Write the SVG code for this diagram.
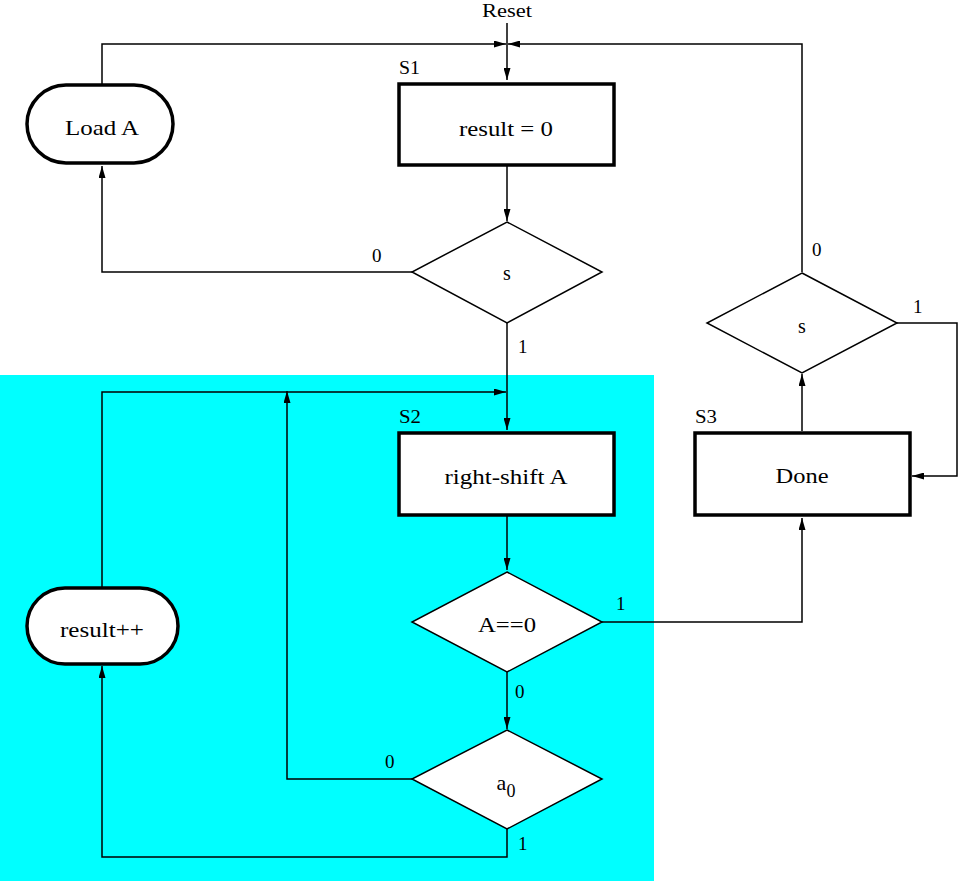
<svg xmlns="http://www.w3.org/2000/svg" width="958" height="881" viewBox="0 0 958 881">
<defs>
<marker id="ah" markerWidth="12" markerHeight="7" refX="12" refY="3.5" orient="auto" markerUnits="userSpaceOnUse">
<path d="M0,0 L12,3.5 L0,7 z" fill="#000"/>
</marker>
<style>
.box{fill:#fff;stroke:#000;stroke-width:3.5}
.dia{fill:#fff;stroke:#000;stroke-width:1.5}
.c{fill:none;stroke:#000;stroke-width:1.5}
.a{marker-end:url(#ah)}
.t{font-family:"Liberation Serif","Times New Roman",serif;font-size:22px;text-anchor:middle;fill:#000}
.s{font-family:"Liberation Serif","Times New Roman",serif;font-size:19px;fill:#000}
</style>
</defs>
<rect x="0" y="375" width="654" height="506" fill="#00ffff"/>
<g id="connectors">
<path class="c a" d="M507,23 V80"/>
<path class="c a" d="M102,84 V44 H506"/>
<path class="c a" d="M802,272 V44 H508"/>
<path class="c a" d="M507,166 V221"/>
<path class="c a" d="M412,272 H102 V166"/>
<path class="c a" d="M507,323 V430"/>
<path class="c a" d="M102,587 V392 H506"/>
<path class="c a" d="M507,516 V570"/>
<path class="c a" d="M602,622 H802 V518"/>
<path class="c a" d="M507,672 V729"/>
<path class="c a" d="M412,779 H287 V391"/>
<path class="c a" d="M507,829 V857 H102 V666"/>
<path class="c a" d="M802,431 V374"/>
<path class="c a" d="M897,323 H957 V476 H912"/>
</g>
<text class="s" x="507" y="17" text-anchor="middle" style="font-size:18px" textLength="50" lengthAdjust="spacingAndGlyphs">Reset</text>
<g id="S1">
<rect class="box" x="399" y="84" width="215" height="81"/>
<text class="t" x="506" y="136" textLength="94" lengthAdjust="spacingAndGlyphs">result = 0</text>
<text class="s" x="399" y="74" textLength="21" lengthAdjust="spacingAndGlyphs">S1</text>
</g>
<g id="loadA">
<rect class="box" x="27" y="85" width="146" height="78" rx="39" ry="39"/>
<text class="t" x="102" y="135" textLength="74" lengthAdjust="spacingAndGlyphs">Load A</text>
</g>
<g id="s1">
<polygon class="dia" points="507,222 602,272 507,323 412,272"/>
<text class="t" x="507" y="280" style="font-size:20px">s</text>
<text class="s" x="372" y="262">0</text>
<text class="s" x="518" y="353">1</text>
</g>
<g id="S2">
<rect class="box" x="399" y="433" width="215" height="82"/>
<text class="t" x="506" y="484" textLength="123" lengthAdjust="spacingAndGlyphs">right-shift A</text>
<text class="s" x="399" y="423" textLength="22" lengthAdjust="spacingAndGlyphs">S2</text>
</g>
<g id="Aeq0">
<polygon class="dia" points="507,572 602,622 507,672 412,622"/>
<text class="t" x="507" y="632" textLength="58" lengthAdjust="spacingAndGlyphs">A==0</text>
<text class="s" x="616" y="610">1</text>
<text class="s" x="515" y="698">0</text>
</g>
<g id="a0">
<polygon class="dia" points="507,730 602,779 507,829 412,779"/>
<text class="t" x="506" y="790">a<tspan font-size="18" dy="7">0</tspan></text>
<text class="s" x="385" y="768">0</text>
<text class="s" x="518" y="850">1</text>
</g>
<g id="resultpp">
<rect class="box" x="27" y="588" width="151" height="76" rx="38" ry="38"/>
<text class="t" x="102" y="637" textLength="84" lengthAdjust="spacingAndGlyphs">result++</text>
</g>
<g id="s2">
<polygon class="dia" points="802,273 897,323 802,373 707,323"/>
<text class="t" x="802" y="333" style="font-size:20px">s</text>
<text class="s" x="812" y="256">0</text>
<text class="s" x="913" y="313">1</text>
</g>
<g id="S3">
<rect class="box" x="695" y="433" width="215" height="82"/>
<text class="t" x="802" y="483" textLength="53" lengthAdjust="spacingAndGlyphs">Done</text>
<text class="s" x="695" y="423" textLength="22" lengthAdjust="spacingAndGlyphs">S3</text>
</g>
</svg>
